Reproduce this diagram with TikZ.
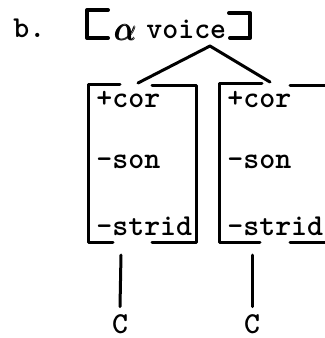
\documentclass[tikz,border=0pt]{standalone}
\usepackage{amsmath}
\usepackage{fontspec}
\begin{document}
\begin{tikzpicture}[x=0.5pt, y=-0.5pt, line cap=round, line join=round,
    feat/.style={font=\fontsize{15.2}{18}\selectfont\ttfamily\bfseries, inner sep=0pt, anchor=base west},
    seg/.style={line width=1.5pt},
    brk/.style={line width=2pt}]
				\useasboundingbox (0,0) rectangle (325,338);
				
				% 标题与 [α voice]
				\node[feat] (lbl) at (13,37) {b.};
				\draw[brk] (108,10) -- (87,10) -- (87,38) -- (108,38);
				\node[anchor=base, inner sep=0pt, font=\fontsize{19}{22}\selectfont] (alpha) at (126,40) {$\pmb{\alpha}$};
				\node[feat] (voice) at (146,38) {voice};
				\draw[brk] (229,13) -- (250,13) -- (250,38) -- (230,38);
				
				% 分支
				\coordinate (peak) at (210,46);
				\coordinate (top1) at (138,83);
				\coordinate (top2) at (270,82);
				\draw[seg] (top1) -- (peak) -- (top2);
				
				% 左边的矩阵
				\draw[seg] (120,84) -- (88,84) -- (88,242) -- (113,242);
				\draw[seg] (152,85) -- (196,85) -- (196,242) -- (152,242);
				\node[feat] (cor1) at (96,107) {+cor};
				\node[feat] (son1) at (96,168) {-son};
				\node[feat] (strid1) at (96,235) {-strid};
				
				% 右边的矩阵 (右缘在图外)
				\draw[seg] (262,83) -- (219,83) -- (219,242) -- (260,242);
				\draw[seg] (290,85) -- (325,85);
				\draw[seg] (290,242) -- (325,242);
				\node[feat] (cor2) at (227,107) {+cor};
				\node[feat] (son2) at (227,168) {-son};
				\node[feat] (strid2) at (227,235) {-strid};
				
				% 底下的 C
				\node[feat, anchor=base, inner sep=3.5pt] (c1) at (120,333) {C};
				\node[feat, anchor=base, inner sep=3.5pt] (c2) at (252,333) {C};
				\coordinate (foot1) at (121,255);
				\coordinate (foot2) at (252,255);
				\draw[seg] (foot1) -- (c1.north);
				\draw[seg] (foot2) -- (c2.north);
\end{tikzpicture}
\end{document}
